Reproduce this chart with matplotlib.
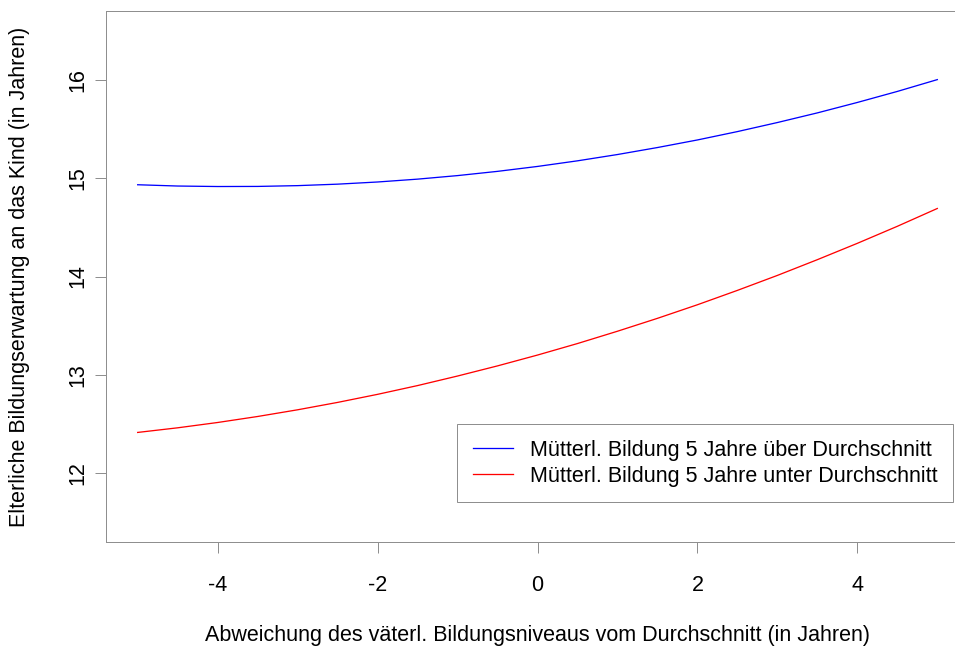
import matplotlib
matplotlib.use("Agg")
import matplotlib.pyplot as plt

# Abweichung des väterlichen Bildungsniveaus (Jahre)
vater_abweichung = [-5.0, -4.5, -4.0, -3.5, -3.0, -2.5, -2.0, -1.5, -1.0, -0.5,
                    0.0, 0.5, 1.0, 1.5, 2.0, 2.5, 3.0, 3.5, 4.0, 4.5, 5.0]

# Vorhergesagte elterliche Bildungserwartung (Jahre)
erwartung_mutter_ueber = [14.932, 14.919, 14.914, 14.915, 14.923, 14.938, 14.960,
                          14.989, 15.025, 15.068, 15.118, 15.175, 15.239, 15.310,
                          15.387, 15.472, 15.564, 15.662, 15.768, 15.880, 16.000]
erwartung_mutter_unter = [12.416, 12.463, 12.517, 12.578, 12.646, 12.721, 12.803,
                          12.892, 12.989, 13.092, 13.202, 13.319, 13.444, 13.575,
                          13.713, 13.859, 14.011, 14.171, 14.337, 14.510, 14.691]

x_ticks = [-4, -2, 0, 2, 4]
y_ticks = [12, 13, 14, 15, 16]
legend_labels = ["Mütterl. Bildung 5 Jahre über Durchschnitt",
                 "Mütterl. Bildung 5 Jahre unter Durchschnitt"]
x_title = "Abweichung des väterl. Bildungsniveaus vom Durchschnitt (in Jahren)"
y_title = "Elterliche Bildungserwartung an das Kind (in Jahren)"

plt.rcParams["font.family"] = ["Liberation Sans", "DejaVu Sans"]

W, H, DPI = 955, 646, 100
PT = 72.0 / DPI          # points per pixel
FS = 15.5                # text size in points
FRAME = "#8f8f8f"

fig = plt.figure(figsize=(W / DPI, H / DPI), dpi=DPI)
left, right, top, bottom = 105.7, 969.3, 10.7, 542.3
ax = fig.add_axes([left / W, 1 - bottom / H, (right - left) / W, (bottom - top) / H])

ax.plot(vater_abweichung, erwartung_mutter_ueber, color="#0000ff", lw=1.3 * PT,
        label=legend_labels[0])
ax.plot(vater_abweichung, erwartung_mutter_unter, color="#ff0000", lw=1.3 * PT,
        label=legend_labels[1])

ax.set_xlim(-5.4, 5.4)
ax.set_ylim(11.3, 16.7)
ax.set_xticks(x_ticks)
ax.set_xticklabels([str(v) for v in x_ticks])
ax.set_yticks(y_ticks)
ax.set_yticklabels([str(v) for v in y_ticks])

for s in ax.spines.values():
    s.set_color(FRAME)
    s.set_linewidth(1.0 * PT)

ax.tick_params(axis="both", direction="out", length=11 * PT, width=1.0 * PT,
               color=FRAME, labelsize=FS, labelcolor="black")
ax.tick_params(axis="x", pad=22 * PT)
ax.tick_params(axis="y", pad=6 * PT)
for lab in ax.get_yticklabels():
    lab.set_rotation(90)
    lab.set_va("center")

ax.set_xlabel(x_title, fontsize=FS, va="center")
ax.xaxis.set_label_coords(0.5, -(635 - bottom) / (bottom - top))
ax.set_ylabel(y_title, fontsize=FS, va="center")
ax.yaxis.set_label_coords(-(left - 20) / (right - left), 0.5)

leg = ax.legend(loc="upper left",
                bbox_to_anchor=(457.3 / W, 1 - 424.3 / H),
                bbox_transform=fig.transFigure,
                fontsize=FS, frameon=True, fancybox=False, shadow=False,
                borderaxespad=0, borderpad=0.72, handlelength=1.86,
                handletextpad=0.78, labelspacing=0.22)
frame = leg.get_frame()
frame.set_edgecolor(FRAME)
frame.set_linewidth(1.0 * PT)
frame.set_facecolor("white")
frame.set_alpha(1)

fig.savefig("out.png", dpi=DPI)
